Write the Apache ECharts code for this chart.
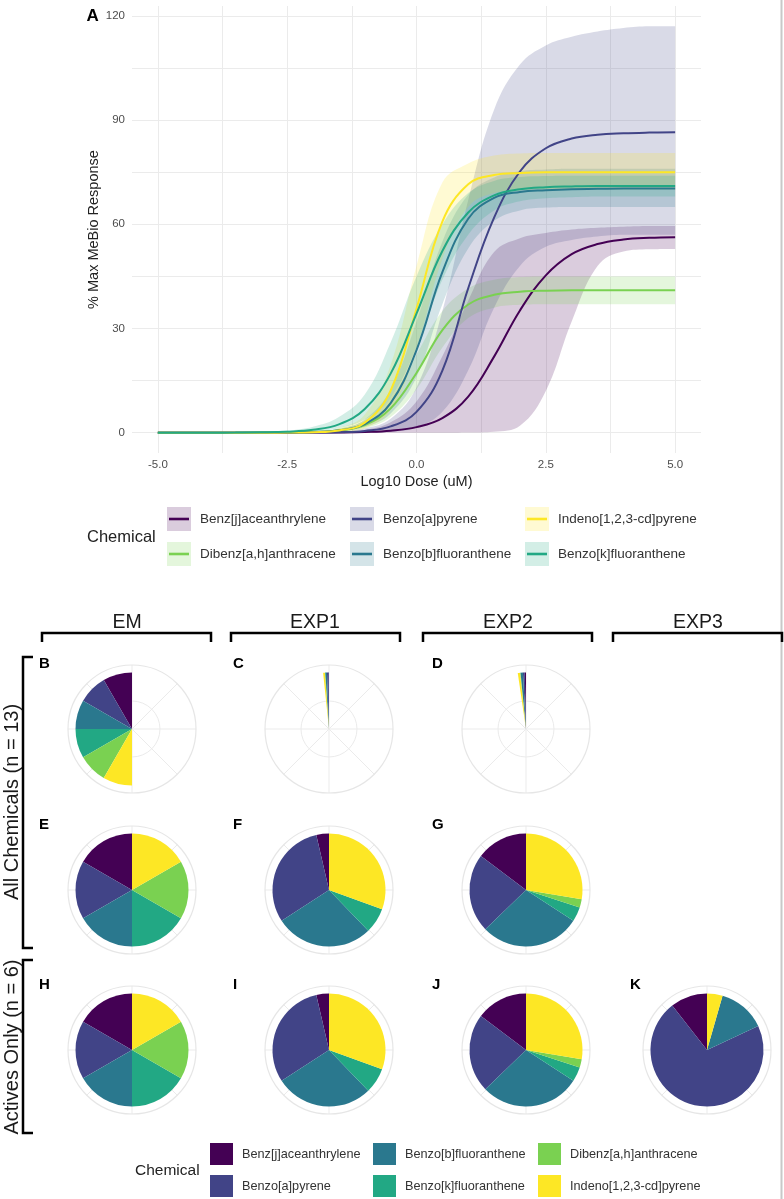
<!DOCTYPE html>
<html>
<head>
<meta charset="utf-8">
<title>MeBio response and pie panels</title>
<script src="https://cdn.jsdelivr.net/npm/echarts@6/dist/echarts.min.js"></script>
<style>
  html, body { margin: 0; padding: 0; background: #fff; }
  #chart { width: 784px; height: 1199px; }
</style>
</head>
<body>
<div id="chart"></div>
<script>
// chemicals (alphabetical, viridis colours)
const chemNames = ['Benz[j]aceanthrylene', 'Benzo[a]pyrene', 'Benzo[b]fluoranthene',
                   'Benzo[k]fluoranthene', 'Dibenz[a,h]anthracene', 'Indeno[1,2,3-cd]pyrene'];
const chemColors = ['#440154', '#414487', '#2A788E', '#22A884', '#7AD151', '#FDE725'];
// order in which ribbons / curves are drawn
const curveOrder = [0, 4, 1, 2, 5, 3];

// panel A: dose axis positions (log10 uM), the axis spans -5.5 .. 5.5
const doseCats = [-5.5, -5.25, -5, -4.75, -4.5, -4.25, -4, -3.75, -3.5, -3.25, -3, -2.75, -2.5, -2.25,
                  -2, -1.75, -1.5, -1.25, -1, -0.75, -0.5, -0.25, 0, 0.25, 0.5, 0.75, 1, 1.25, 1.5,
                  1.75, 2, 2.25, 2.5, 2.75, 3, 3.25, 3.5, 3.75, 4, 4.25, 4.5, 4.75, 5, 5.25, 5.5];
const doseX = [-5, -4.5, -4, -3.5, -3, -2.5, -2, -1.5, -1, -0.5, 0, 0.5, 1, 1.5, 2, 2.5, 3, 3.5, 4, 4.5, 5];

// fitted curves (% max MeBio response), with lower / upper ribbon
const fitBJ = [0, 0, 0, 0, 0, 0.01, 0.03, 0.07, 0.2, 0.56, 1.6, 4.2, 10.4, 21.9, 35.2, 45.3, 51.4, 54.3, 55.6, 56.1, 56.3];
const loBJ  = [0, 0, 0, 0, 0, 0, 0, 0, 0, 0, 0, 0, 0.05, 0.3, 2, 12, 32, 48, 52.2, 52.8, 52.9];
const hiBJ  = [0, 0, 0, 0, 0, 0.02, 0.08, 0.2, 0.8, 3, 9, 22, 38, 52, 56, 57.5, 58.5, 59, 59.3, 59.5, 59.5];

const fitBA = [0, 0, 0, 0, 0, 0.01, 0.04, 0.14, 0.51, 1.8, 6, 17.9, 41.6, 61.9, 75.2, 81.9, 84.7, 85.8, 86.2, 86.4, 86.5];
const loBA  = [0, 0, 0, 0, 0, 0, 0, 0.01, 0.05, 0.3, 1.5, 6, 18, 36, 48, 53.5, 55.5, 56.5, 57, 57, 57];
const hiBA  = [0, 0, 0, 0, 0.01, 0.03, 0.1, 0.4, 1.2, 4, 13, 35, 67, 93, 106, 111.5, 114, 115.5, 116.5, 117, 117];

const fitBB = [0, 0, 0, 0, 0.01, 0.05, 0.18, 0.68, 2.5, 8.5, 23.8, 46.2, 61.6, 67.6, 69.3, 69.8, 70.1, 70.2, 70.3, 70.3, 70.3];
const loBB  = [0, 0, 0, 0, 0, 0.02, 0.1, 0.4, 1.6, 5.5, 16, 37, 53, 61, 64, 64.8, 65, 65, 65, 65, 65];
const hiBB  = [0, 0, 0, 0, 0.03, 0.1, 0.3, 1.1, 3.8, 12.5, 32, 55, 68.5, 73.5, 75.3, 75.8, 76, 76, 76, 76, 76];

const fitBK = [0, 0, 0.01, 0.03, 0.09, 0.28, 0.83, 2.4, 6.8, 17, 34.3, 52.3, 63.4, 68.3, 70.1, 70.7, 70.9, 71, 71, 71, 71];
const loBK  = [0, 0, 0, 0.01, 0.05, 0.15, 0.45, 1.3, 3.8, 10, 24.5, 44, 57, 64, 66.6, 67.5, 67.8, 68, 68, 68, 68];
const hiBK  = [0, 0, 0.02, 0.06, 0.18, 0.6, 1.7, 4.5, 11, 26, 45, 60, 69, 72.5, 73.6, 73.9, 74, 74, 74, 74, 74];

const fitDB = [0, 0, 0, 0, 0.02, 0.05, 0.19, 0.65, 2.2, 7, 17.2, 29.5, 36.9, 39.7, 40.6, 40.9, 41, 41, 41, 41, 41];
const loDB  = [0, 0, 0, 0, 0, 0.02, 0.1, 0.3, 1.2, 4.5, 12.5, 24.5, 33, 36, 36.8, 37, 37, 37, 37, 37, 37];
const hiDB  = [0, 0, 0, 0, 0.05, 0.1, 0.35, 1.2, 3.6, 10, 22.5, 35, 41.5, 44, 44.8, 45, 45, 45, 45, 45, 45];

const fitIN = [0, 0, 0, 0, 0.01, 0.03, 0.14, 0.64, 2.9, 12.1, 35.7, 60.8, 71.5, 74.2, 74.8, 75, 75, 75, 75, 75, 75];
const loIN  = [0, 0, 0, 0, 0, 0.01, 0.05, 0.25, 1.3, 6.5, 24, 50, 65, 69, 69.8, 70, 70, 70, 70, 70, 70];
const hiIN  = [0, 0, 0, 0, 0.02, 0.07, 0.3, 1.3, 5.2, 19.5, 48, 72, 77.5, 79.8, 80.4, 80.5, 80.5, 80.5, 80.5, 80.5, 80.5];

const fits = [fitBJ, fitBA, fitBB, fitBK, fitDB, fitIN];
const lows = [loBJ, loBA, loBB, loBK, loDB, loIN];
const highs = [hiBJ, hiBA, hiBB, hiBK, hiDB, hiIN];

const xTicks = [-5, -3.75, -2.5, -1.25, 0, 1.25, 2.5, 3.75, 5];
const xLabels = [-5, -2.5, 0, 2.5, 5];
const yTicks = [0, 15, 30, 45, 60, 75, 90, 105, 120];
const yLabels = [0, 30, 60, 90, 120];

// pie panels: share of a full turn (360) per chemical, alphabetical order
const fullTurn = 360;
const pieB = [30, 30, 30, 30, 30, 30];
const pieC = [0.22, 1.83, 1.68, 0.43, 0, 1.83];
const pieD = [1.24, 1.89, 2.4, 0.35, 0.2, 2.32];
const pieE = [60, 60, 60, 60, 60, 60];
const pieF = [13, 110, 101, 26, 0, 110];
const pieG = [53, 81, 103, 15, 8.5, 99.5];
const pieH = [60, 60, 60, 60, 60, 60];
const pieI = [13, 110, 101, 26, 0, 110];
const pieJ = [53, 81, 103, 15, 8.5, 99.5];
const pieK = [38, 257, 49, 0, 0, 16];

const colHeaders = ['EM', 'EXP1', 'EXP2', 'EXP3'];
const rowLabels = ['All Chemicals (n = 13)', 'Actives Only (n = 6)'];

// layout
const FONT = '"Liberation Sans", Arial, Helvetica, sans-serif';
const colX = [132, 329, 526, 707];
const rowY = [729, 890, 1050];
const letterX = [39, 233, 432, 630];
const headerX = [127, 315, 508, 698];
const colBracket = [[42, 211], [231, 400], [423, 592], [613, 782]];
const rowBracket = [[657, 948], [960, 1133]];
const rowLabelY = [802, 1047];
const pieRadius = 56.5;
const gridRadius = 64;
const innerRing = 28;

const panels = [
  { label: 'B', vals: pieB, col: 0, row: 0 },
  { label: 'C', vals: pieC, col: 1, row: 0 },
  { label: 'D', vals: pieD, col: 2, row: 0 },
  { label: 'E', vals: pieE, col: 0, row: 1 },
  { label: 'F', vals: pieF, col: 1, row: 1 },
  { label: 'G', vals: pieG, col: 2, row: 1 },
  { label: 'H', vals: pieH, col: 0, row: 2 },
  { label: 'I', vals: pieI, col: 1, row: 2 },
  { label: 'J', vals: pieJ, col: 2, row: 2 },
  { label: 'K', vals: pieK, col: 3, row: 2 }
];

function withAlpha(hex, a) {
  const n = parseInt(hex.slice(1), 16);
  return 'rgba(' + (n >> 16) + ',' + ((n >> 8) & 255) + ',' + (n & 255) + ',' + a + ')';
}

const chart = echarts.init(document.getElementById('chart'));

const series = [];
// ribbons first (lower bound hidden, band stacked on it)
curveOrder.forEach(function (i) {
  series.push({
    name: chemNames[i], type: 'line', stack: 'band' + i, symbol: 'none', smooth: 0.4,
    silent: true, z: 1, lineStyle: { opacity: 0 },
    data: doseX.map(function (x, k) { return [String(x), lows[i][k]]; })
  });
  series.push({
    name: chemNames[i], type: 'line', stack: 'band' + i, symbol: 'none', smooth: 0.4,
    silent: true, z: 1, lineStyle: { opacity: 0 },
    areaStyle: { color: chemColors[i], opacity: 0.2 },
    data: doseX.map(function (x, k) { return [String(x), highs[i][k] - lows[i][k]]; })
  });
});
// fitted curves
curveOrder.forEach(function (i) {
  series.push({
    name: chemNames[i], type: 'line', symbol: 'none', smooth: 0.4, z: 3,
    lineStyle: { color: chemColors[i], width: 2 },
    itemStyle: { color: chemColors[i] },
    data: doseX.map(function (x, k) { return [String(x), fits[i][k]]; })
  });
});
// pies
panels.forEach(function (p) {
  const used = p.vals.reduce(function (a, b) { return a + b; }, 0);
  const data = chemNames.map(function (n, i) {
    return { name: n, value: p.vals[i], itemStyle: { color: chemColors[i] } };
  });
  data.push({ name: '', value: Math.max(0, fullTurn - used), itemStyle: { color: 'rgba(0,0,0,0)' } });
  series.push({
    type: 'pie', center: [colX[p.col], rowY[p.row]], radius: [0, pieRadius],
    startAngle: 90, clockwise: false, silent: true, z: 2,
    label: { show: false }, labelLine: { show: false },
    emphasis: { disabled: true },
    itemStyle: { borderWidth: 0 },
    data: data
  });
});

// polar backgrounds for pies
const polar = panels.map(function (p) {
  return { center: [colX[p.col], rowY[p.row]], radius: gridRadius };
});
const angleAxis = panels.map(function (p, k) {
  return {
    polarIndex: k, type: 'value', min: 0, max: 360, interval: 45, startAngle: 90,
    axisLine: { lineStyle: { color: '#e6e6e6', width: 1.2 } },
    axisTick: { show: false }, axisLabel: { show: false },
    splitLine: { show: true, lineStyle: { color: '#ebebeb', width: 1 } }
  };
});
const radiusAxis = panels.map(function (p, k) {
  return {
    polarIndex: k, type: 'value', min: 0, max: gridRadius,
    axisLine: { show: false }, axisLabel: { show: false },
    axisTick: { show: false, customValues: [innerRing] },
    splitLine: { show: true, lineStyle: { color: '#ebebeb', width: 1 } }
  };
});

// legends
const topCols = [[0, 4], [1, 2], [5, 3]];
const topLeft = [167, 350, 525];
const botCols = [[0, 1], [2, 3], [4, 5]];
const botLeft = [210, 373, 538];
const legend = [];
topCols.forEach(function (col, c) {
  legend.push({
    left: topLeft[c], top: 507, orient: 'vertical', padding: 0,
    itemWidth: 24, itemHeight: 24, itemGap: 11,
    textStyle: { fontSize: 13.5, color: '#333', fontFamily: FONT, padding: [0, 0, 0, 4] },
    data: col.map(function (i) {
      return { name: chemNames[i], icon: 'rect', itemStyle: { color: withAlpha(chemColors[i], 0.2), borderWidth: 0 } };
    })
  });
  legend.push({
    left: topLeft[c] + 2, top: 507, orient: 'vertical', padding: 0,
    itemWidth: 20, itemHeight: 2.6, itemGap: 11,
    textStyle: { fontSize: 13.5, color: 'rgba(0,0,0,0)', lineHeight: 24, fontFamily: FONT },
    data: col.map(function (i) {
      return { name: chemNames[i], icon: 'rect', itemStyle: { color: chemColors[i], borderWidth: 0 } };
    })
  });
});
botCols.forEach(function (col, c) {
  legend.push({
    left: botLeft[c], top: 1143, orient: 'vertical', padding: 0,
    itemWidth: 23, itemHeight: 22, itemGap: 10,
    textStyle: { fontSize: 12.7, color: '#333', fontFamily: FONT, padding: [0, 0, 0, 4] },
    data: col.map(function (i) {
      return { name: chemNames[i], icon: 'rect', itemStyle: { color: chemColors[i], borderWidth: 0 } };
    })
  });
});

// texts and brackets
const graphic = [
  { type: 'line', shape: { x1: 781.5, y1: 0, x2: 781.5, y2: 1199 }, style: { stroke: '#c8c8c8', lineWidth: 2 } },
  { type: 'text', x: 86.5, y: 16, style: { text: 'A', font: 'bold 17px ' + FONT, fill: '#000', align: 'left', verticalAlign: 'middle', textAlign: 'left', textVerticalAlign: 'middle' } },
  { type: 'text', x: 87, y: 537, style: { text: 'Chemical', font: '16.5px ' + FONT, fill: '#222', align: 'left', verticalAlign: 'middle', textAlign: 'left', textVerticalAlign: 'middle' } },
  { type: 'text', x: 135, y: 1171, style: { text: 'Chemical', font: '15.5px ' + FONT, fill: '#222', align: 'left', verticalAlign: 'middle', textAlign: 'left', textVerticalAlign: 'middle' } }
];
colHeaders.forEach(function (h, c) {
  graphic.push({ type: 'text', x: headerX[c], y: 623, style: { text: h, font: '19.5px ' + FONT, fill: '#1a1a1a', align: 'center', verticalAlign: 'middle', textAlign: 'center', textVerticalAlign: 'middle' } });
  const b = colBracket[c];
  graphic.push({ type: 'polyline', shape: { points: [[b[0], 642], [b[0], 633], [b[1], 633], [b[1], 642]] }, style: { stroke: '#000', lineWidth: 2.5, fill: null } });
});
rowLabels.forEach(function (t, r) {
  graphic.push({ type: 'text', x: 12.5, y: rowLabelY[r], rotation: Math.PI / 2, style: { text: t, font: '20px ' + FONT, fill: '#1a1a1a', align: 'center', verticalAlign: 'middle', textAlign: 'center', textVerticalAlign: 'middle' } });
  const b = rowBracket[r];
  graphic.push({ type: 'polyline', shape: { points: [[33, b[0]], [23, b[0]], [23, b[1]], [33, b[1]]] }, style: { stroke: '#000', lineWidth: 2.5, fill: null } });
});
panels.forEach(function (p) {
  graphic.push({ type: 'text', x: letterX[p.col], y: rowY[p.row] - 65, style: { text: p.label, font: 'bold 15px ' + FONT, fill: '#000', align: 'left', verticalAlign: 'middle', textAlign: 'left', textVerticalAlign: 'middle' } });
});

function isTick(list) {
  return function (idx, val) { return list.indexOf(Number(val)) !== -1; };
}

const option = {
  animation: false,
  backgroundColor: '#fff',
  textStyle: { fontFamily: FONT },
  grid: { left: 132, right: 83, top: 6, height: 447 },
  xAxis: {
    type: 'category', boundaryGap: false, data: doseCats.map(String),
    name: 'Log10 Dose (uM)', nameLocation: 'middle', nameGap: 21, nameMoveOverlap: false,
    nameTextStyle: { fontSize: 14.5, color: '#222' },
    axisLine: { show: false },
    axisTick: { show: false, interval: isTick(xTicks) },
    axisLabel: { interval: isTick(xLabels), color: '#4d4d4d', fontSize: 11.5, margin: 6,
                 formatter: function (v) { return Number(v).toFixed(1); } },
    splitLine: { show: true, interval: isTick(xTicks), lineStyle: { color: '#ebebeb', width: 1 } }
  },
  yAxis: {
    type: 'value', min: -5.85, max: 122.85,
    name: '% Max MeBio Response', nameLocation: 'middle', nameGap: 31, nameMoveOverlap: false,
    nameTextStyle: { fontSize: 14.5, color: '#222' },
    axisLine: { show: false },
    axisTick: { show: false, customValues: yTicks },
    axisLabel: { customValues: yLabels, color: '#4d4d4d', fontSize: 11.5, margin: 7 },
    splitLine: { show: true, lineStyle: { color: '#ebebeb', width: 1 } }
  },
  polar: polar,
  angleAxis: angleAxis,
  radiusAxis: radiusAxis,
  legend: legend,
  series: series,
  graphic: graphic
};

chart.setOption(option);
</script>
</body>
</html>
